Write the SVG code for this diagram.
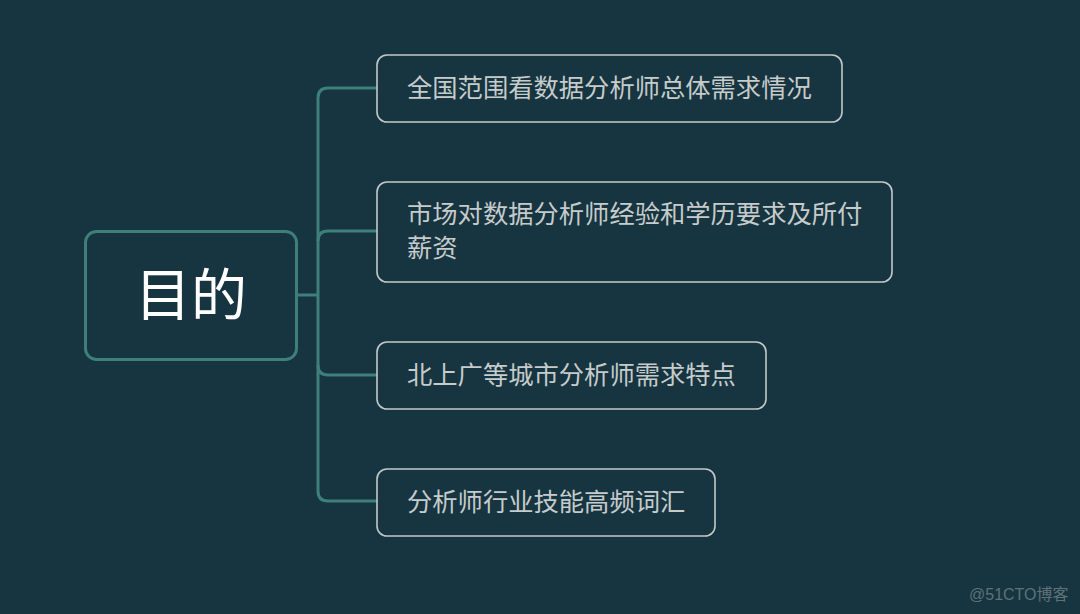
<svg xmlns="http://www.w3.org/2000/svg" width="1080" height="614" viewBox="0 0 1080 614">
<style>
.bg{fill:#163540}
.main{fill:#163540;stroke:#3e7f7a;stroke-width:3}
.sub{fill:#163540;stroke:#c3c9c9;stroke-width:1.6}
.conn{fill:none;stroke:#3e7f7a;stroke-width:3}
.t{font-family:"Noto Sans CJK SC","Noto Sans",sans-serif;font-size:25.3px;fill:#c6cbcb}
.mt{font-family:"Noto Sans CJK SC","Noto Sans",sans-serif;font-size:56px;fill:#ffffff}
.wm{font-family:"Liberation Sans","Noto Sans CJK SC",sans-serif;font-size:16px;fill:#5f7278}
</style>
<rect class="bg" x="0" y="0" width="1080" height="614"/>
<g id="connectors">
<path class="conn" d="M297,295 H318"/>
<path class="conn" d="M378,88 H328 Q318,88 318,98 V491 Q318,501 328,501 H378"/>
<path class="conn" d="M378,231 H328 Q318,231 318,241"/>
<path class="conn" d="M378,375 H328 Q318,375 318,365"/>
</g>
<g id="main">
<rect class="main" x="85.5" y="231.5" width="211" height="128" rx="11"/>
<text class="mt" x="191" y="315" text-anchor="middle">目的</text>
</g>
<g id="n1">
<rect class="sub" x="377" y="55" width="465" height="67" rx="10"/>
<text class="t" x="407" y="97">全国范围看数据分析师总体需求情况</text>
</g>
<g id="n2">
<rect class="sub" x="377" y="182" width="515" height="100" rx="10"/>
<text class="t" x="407" y="223">市场对数据分析师经验和学历要求及所付</text>
<text class="t" x="407" y="257">薪资</text>
</g>
<g id="n3">
<rect class="sub" x="377" y="342" width="389" height="67" rx="10"/>
<text class="t" x="407" y="384">北上广等城市分析师需求特点</text>
</g>
<g id="n4">
<rect class="sub" x="377" y="469" width="338" height="67" rx="10"/>
<text class="t" x="407" y="511">分析师行业技能高频词汇</text>
</g>
<text class="wm" x="969" y="600">@51CTO博客</text>
</svg>
